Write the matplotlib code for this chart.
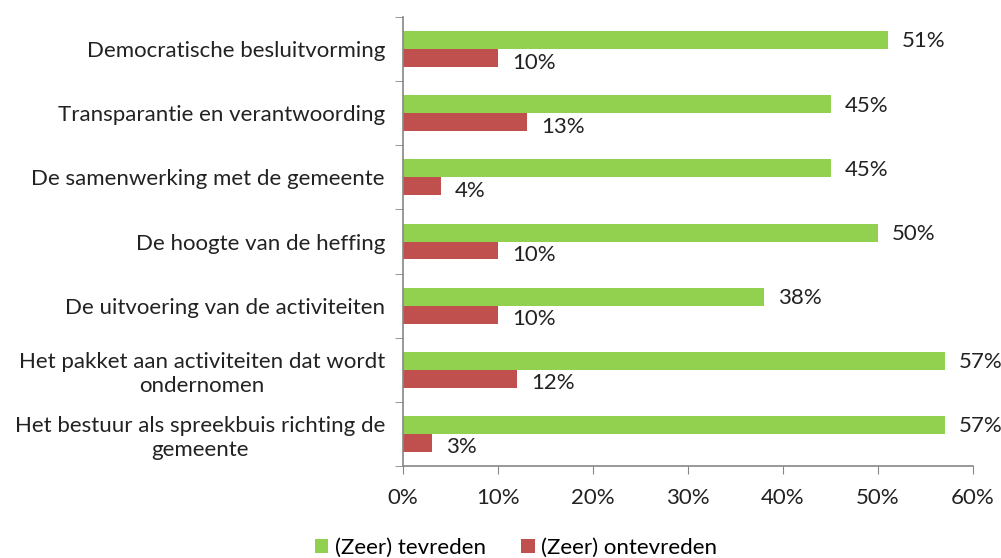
import numpy as np
import matplotlib.pyplot as plt
from matplotlib.ticker import FuncFormatter

categories = ['Democratische besluitvorming',
              'Transparantie en verantwoording',
              'De samenwerking met de gemeente',
              'De hoogte van de heffing',
              'De uitvoering van de activiteiten',
              'Het pakket aan activiteiten dat wordt\nondernomen',
              'Het bestuur als spreekbuis richting de\ngemeente']
tevreden = [51, 45, 45, 50, 38, 57, 57]
ontevreden = [10, 13, 4, 10, 10, 12, 3]
series_names = ['(Zeer) tevreden', '(Zeer) ontevreden']

plt.rcParams['font.family'] = ['Lato', 'DejaVu Sans']
fs = 16

fig = plt.figure(figsize=(10.01, 5.58), dpi=100)
ax = fig.add_axes([403/1001, 1-466/558, 570/1001, 449/558])

y = np.arange(len(categories))
h = 0.28
green = '#92D050'
red = '#C0504D'
ax.barh(y - h/2, tevreden, height=h, color=green, label=series_names[0])
ax.barh(y + h/2, ontevreden, height=h, color=red, label=series_names[1])

for yi, v in zip(y, tevreden):
    ax.text(v + 1.5, yi - h/2 + 0.02, '%d%%' % v, va='center', ha='left', fontsize=fs, color='#222222')
for yi, v in zip(y, ontevreden):
    ax.text(v + 1.5, yi + h/2 + 0.07, '%d%%' % v, va='center', ha='left', fontsize=fs, color='#222222')

ax.set_ylim(len(categories) - 0.5, -0.5)
ax.set_xlim(0, 60)
ax.set_xticks(np.arange(0, 61, 10))
ax.xaxis.set_major_formatter(FuncFormatter(lambda v, p: '%d%%' % v))

ax.set_yticks(y)
ax.set_yticklabels(categories, linespacing=1.25)
for lab in ax.get_yticklabels():
    lab.set_multialignment('center')
ax.set_yticks(np.arange(-0.5, len(categories)), minor=True)
ax.tick_params(axis='y', which='major', length=0, pad=13, labelsize=fs, colors='#222222')
ax.tick_params(axis='y', which='minor', length=6, color='#868686', direction='out')
ax.tick_params(axis='x', length=6, color='#868686', direction='out', pad=10, labelsize=fs, labelcolor='#222222')

for s in ['top', 'right']:
    ax.spines[s].set_visible(False)
for s in ['left', 'bottom']:
    ax.spines[s].set_color('#868686')
    ax.spines[s].set_linewidth(1.2)

fig.legend(loc='center', bbox_to_anchor=(516/1001, 1-548/558), ncol=2, frameon=False,
           fontsize=fs, handlelength=0.6, handleheight=0.6, handletextpad=0.3, columnspacing=1.6)

fig.savefig('out.png', dpi=100)
